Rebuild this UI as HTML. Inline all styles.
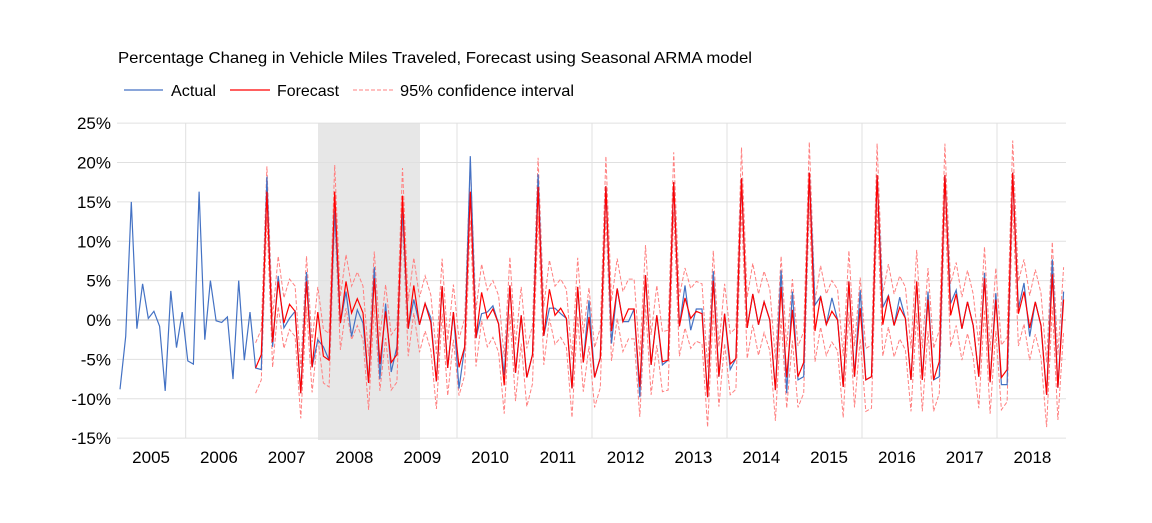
<!DOCTYPE html>
<html><head><meta charset="utf-8"><style>
body{margin:0;background:#fff;width:1152px;height:518px;overflow:hidden;font-family:"Liberation Sans",sans-serif}
</style></head><body>
<svg id="chart" width="1152" height="518" viewBox="0 0 1152 518" xmlns="http://www.w3.org/2000/svg">
<text x="118" y="63" font-size="16" fill="#000" textLength="634" lengthAdjust="spacingAndGlyphs">Percentage Chaneg in Vehicle Miles Traveled, Forecast using Seasonal ARMA model</text>
<g>
<line x1="124" y1="90" x2="163" y2="90" stroke="#4472C4" stroke-width="1.3"/>
<text x="171" y="96" font-size="16" textLength="45" lengthAdjust="spacingAndGlyphs">Actual</text>
<line x1="230" y1="90" x2="270" y2="90" stroke="#FF0000" stroke-width="1.3"/>
<text x="277" y="96" font-size="16" textLength="62" lengthAdjust="spacingAndGlyphs">Forecast</text>
<line x1="353" y1="90" x2="393" y2="90" stroke="#FF8080" stroke-width="1" stroke-dasharray="4,2"/>
<text x="400" y="96" font-size="16" textLength="174" lengthAdjust="spacingAndGlyphs">95% confidence interval</text>
</g>
<g id="plot"></g>
</svg>
<script>
const yTicks=[25,20,15,10,5,0,-5,-10,-15];
const years=["2005","2006","2007","2008","2009","2010","2011","2012","2013","2014","2015","2016","2017","2018"];
const actual=[
-8.8,-2.1,15.0,-1.1,4.6,0.2,1.1,-0.8,-9.0,3.7,-3.5,1.0,
-5.2,-5.6,16.3,-2.5,5.0,-0.1,-0.3,0.4,-7.5,5.0,-5.1,1.0,
-6.1,-6.3,18.2,-3.4,5.6,-1.0,0.2,1.1,-9.3,6.1,-6.0,-2.5,
-3.4,-5.1,13.9,-0.4,3.6,-2.1,1.3,-0.4,-8.0,6.7,-7.5,2.1,
-6.6,-3.4,14.0,-1.1,2.6,-0.6,2.1,0.3,-7.8,4.3,-6.1,1.0,
-8.7,-3.4,20.8,-2.3,0.8,1.0,1.8,-0.5,-7.0,4.4,-6.7,0.6,
-7.3,-4.4,18.5,-2.0,1.5,1.5,0.8,0.2,-8.7,4.2,-5.4,2.5,
-7.3,-4.8,17.0,-3.0,4.0,-0.2,-0.2,1.4,-9.8,5.7,-5.7,0.6,
-5.7,-5.1,17.5,-0.8,4.4,-1.3,1.4,1.4,-9.8,6.2,-7.2,0.8,
-6.3,-4.9,18.0,-1.0,3.3,-0.6,2.3,0.0,-8.9,6.3,-9.3,3.6,
-7.6,-7.2,18.7,1.9,3.0,-0.6,2.8,0.0,-8.5,4.9,-7.2,3.8,
-7.6,-7.2,18.4,1.6,3.1,-0.7,2.9,0.2,-7.6,4.9,-7.6,3.6,
-7.6,-7.2,18.4,2.1,3.8,-1.1,2.3,-0.7,-7.2,6.0,-7.9,3.4,
-8.2,-8.2,18.7,1.5,4.7,-2.1,2.3,-0.7,-9.5,7.7,-8.6,3.6];
const forecastStart=24;
const forecast=[
-6.1,-4.4,16.3,-2.8,4.9,-0.4,2.0,1.1,-9.3,4.9,-6.0,1.0,
-4.6,-5.1,16.3,-0.4,4.9,0.9,2.7,0.9,-8.0,5.3,-5.6,1.1,
-5.4,-4.4,15.8,-1.1,4.4,-0.6,2.1,-0.3,-7.8,4.3,-6.1,1.0,
-6.0,-3.4,16.3,-2.3,3.5,0.2,1.4,-0.5,-8.3,4.4,-6.7,0.6,
-7.3,-4.4,16.9,-2.0,3.9,0.6,1.5,0.2,-8.7,4.2,-5.4,0.4,
-7.3,-4.8,17.0,-1.4,4.0,-0.2,1.4,1.4,-8.5,5.7,-5.7,0.6,
-5.3,-5.1,17.5,-0.8,2.8,0.2,1.1,0.8,-9.8,5.0,-7.2,0.8,
-5.6,-4.9,18.0,-1.0,3.3,-0.6,2.3,0.0,-8.9,4.2,-7.3,1.3,
-7.2,-5.4,18.7,-1.4,3.0,-0.6,1.1,0.0,-8.5,4.9,-7.2,1.5,
-7.6,-7.2,18.4,-0.6,3.1,-0.7,1.6,0.2,-7.6,4.9,-7.6,2.6,
-7.6,-5.3,18.4,0.6,3.3,-1.1,2.3,-0.7,-7.2,5.3,-7.9,2.6,
-7.3,-6.3,18.7,0.8,3.6,-1.0,2.3,-0.7,-9.5,5.8,-8.6,2.6];
const ciHalf=[3.2,3.4,3.5,3.6,3.7,3.8,3.8,3.9,3.9,4.0,4.0,4.1];

const NS="http://www.w3.org/2000/svg";
const L=117,R=1066,T=123,B=438;
const yS=v=>320-v*7.875;
const xS=i=>120+5.65*i;
const plot=document.getElementById('plot');
function mk(tag,attrs,parent){const e=document.createElementNS(NS,tag);for(const k in attrs)e.setAttribute(k,attrs[k]);(parent||plot).appendChild(e);return e;}

const shade=mk('rect',{x:318,y:T,width:102,height:B-T+2,fill:'#e7e7e7'});



yTicks.forEach(t=>{
  if(t!==0){const g=mk('line',{x1:L,x2:R,y1:yS(t),y2:yS(t),stroke:'#e0e0e0','stroke-width':1});
  
  }
  const tx=mk('text',{x:111,y:yS(t)+6,'font-size':17,'text-anchor':'end',fill:'#000'});
  tx.textContent=t+'%';
  
  
});
[185.7,457,592,727,862,997].forEach(x=>{
  const g=mk('line',{x1:x,x2:x,y1:T,y2:B,stroke:'#e0e0e0','stroke-width':1});
  
  
});
const z=mk('line',{x1:L,x2:R,y1:yS(0),y2:yS(0),stroke:'#bdbdbd','stroke-width':1});



years.forEach((y,k)=>{
  const tx=mk('text',{x:xS(k*12+5.5),y:463,'font-size':17,'text-anchor':'middle',fill:'#000'});
  tx.textContent=y;
  
  
});

function pts(arr,off,f){return arr.map((v,j)=>xS(j+off).toFixed(1)+','+yS(f?f(v,j):v).toFixed(1)).join(' ');}
const up=mk('polyline',{points:pts(forecast,forecastStart,(v,j)=>v+ciHalf[Math.floor(j/12)]),fill:'none',stroke:'#FF8080','stroke-width':1,'stroke-dasharray':'4,2'});


const lo=mk('polyline',{points:pts(forecast,forecastStart,(v,j)=>v-ciHalf[Math.floor(j/12)]),fill:'none',stroke:'#FF8080','stroke-width':1,'stroke-dasharray':'4,2'});


const act=mk('polyline',{points:pts(actual,0),fill:'none',stroke:'#4472C4','stroke-width':1.2});


const fc=mk('polyline',{points:pts(forecast,forecastStart),fill:'none',stroke:'#FF0000','stroke-width':1.2});


</script>
</body></html>
